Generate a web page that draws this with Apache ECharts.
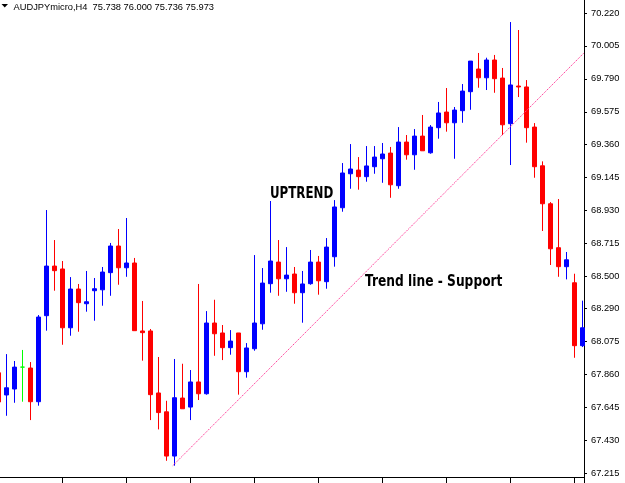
<!DOCTYPE html>
<html><head><meta charset="utf-8">
<script src="https://cdn.jsdelivr.net/npm/echarts@6.0.0/dist/echarts.min.js"></script>
<style>html,body{margin:0;padding:0;background:#fff}#chart{width:625px;height:483px}</style>
</head><body><div id="chart"></div>
<script>
// ---- data (AUDJPYmicro, H4) ----
const opens = [67.870,67.725,67.764,67.907,67.901,67.681,68.243,68.567,68.548,68.164,68.417,68.321,68.406,68.412,68.524,68.698,68.556,68.587,68.143,68.143,67.738,67.615,67.326,67.705,67.646,67.810,67.733,68.195,68.130,68.034,68.130,67.877,68.027,68.190,68.452,68.593,68.484,68.515,68.393,68.452,68.593,68.465,68.628,68.948,69.170,69.194,69.151,69.216,69.268,69.305,69.092,69.377,69.294,69.416,69.307,69.471,69.573,69.503,69.582,69.706,69.854,69.797,69.913,69.795,69.497,69.743,69.737,69.475,69.222,68.974,68.687,68.563,68.458,68.047];
const closes = [67.679,67.772,67.907,67.907,67.681,68.234,68.567,68.537,68.164,68.417,68.328,68.334,68.419,68.528,68.698,68.556,68.587,68.145,68.132,67.727,67.610,67.326,67.707,67.635,67.810,67.733,68.195,68.125,68.034,68.077,67.877,68.032,68.195,68.456,68.600,68.484,68.508,68.393,68.450,68.593,68.471,68.691,68.953,69.175,69.201,69.151,69.221,69.279,69.299,69.098,69.377,69.294,69.416,69.320,69.475,69.567,69.503,69.586,69.710,69.906,69.797,69.913,69.791,69.490,69.750,69.737,69.471,69.216,68.974,68.680,68.563,68.608,68.047,68.164];
const lows = [67.679,67.589,67.674,67.681,67.561,67.655,68.145,68.406,68.053,68.112,68.138,68.269,68.210,68.308,68.373,68.445,68.497,68.145,67.949,67.561,67.500,67.295,67.263,67.635,67.561,67.692,67.727,67.981,67.953,67.988,67.727,67.838,68.014,68.151,68.393,68.373,68.399,68.321,68.197,68.445,68.380,68.419,68.563,68.922,69.072,69.066,69.118,69.170,69.111,69.013,69.072,69.262,69.196,69.320,69.301,69.399,69.445,69.268,69.503,69.588,69.732,69.717,69.699,69.423,69.227,69.671,69.373,69.144,68.796,68.574,68.497,68.480,67.968,68.038];
const highs = [67.870,67.992,67.947,68.019,67.940,68.247,68.933,68.737,68.600,68.495,68.450,68.535,68.489,68.561,68.718,68.809,68.881,68.620,68.339,68.156,67.973,67.687,67.960,67.929,67.888,68.450,68.273,68.347,68.182,68.149,68.130,68.064,68.639,68.554,68.992,68.737,68.691,68.561,68.535,68.672,68.633,68.750,68.998,69.240,69.364,69.279,69.351,69.351,69.371,69.345,69.475,69.423,69.462,69.554,69.488,69.639,69.730,69.606,69.756,69.906,69.959,69.928,69.946,69.861,70.161,70.109,69.782,69.501,69.251,68.985,69.005,68.659,68.517,68.341];
const yTickLabels = ['67.215','67.430','67.645','67.860','68.075','68.290','68.500','68.715','68.930','69.145','69.360','69.575','69.790','70.005','70.220'];
const xTickCandles = [8,16,24,32,40,48,56,64,72];
const trendStart = [21.8, 67.263];
const trendEnd = [73.2, 69.959];
const headerText = 'AUDJPYmicro,H4  75.738 76.000 75.736 75.973';
const noteUptrend = 'UPTREND';
const noteSupport = 'Trend line - Support';

// ---- chart ----
const yTickValues = yTickLabels.map(Number);
const candles = opens.map((o, i) => [i, o, closes[i], lows[i], highs[i]]);
const chart = echarts.init(document.getElementById('chart'), null, {renderer: 'canvas'});
const option = {
  animation: false,
  backgroundColor: '#ffffff',
  grid: {left: 0, right: 41, top: 0, bottom: 0, containLabel: false, outerBoundsMode: 'none'},
  xAxis: {
    type: 'value', min: 0.2083, max: 73.2083, offset: -6,
    axisLine: {show: true, onZero: false, lineStyle: {color: '#000', width: 1}},
    axisTick: {show: true, length: 6, customValues: xTickCandles, lineStyle: {color: '#000', width: 1}},
    axisLabel: {show: false},
    splitLine: {show: false}
  },
  yAxis: {
    type: 'value', position: 'right', min: 67.150, max: 70.305, scale: true,
    axisLine: {show: true, lineStyle: {color: '#000', width: 1}},
    axisTick: {show: true, length: 3, customValues: yTickValues, lineStyle: {color: '#000', width: 1}},
    axisLabel: {
      show: true, customValues: yTickValues, margin: 7, color: '#000',
      fontFamily: 'Liberation Sans, Arial, sans-serif', fontSize: 9.3,
      formatter: v => { const k = yTickValues.findIndex(t => Math.abs(t - v) < 1e-6); return k >= 0 ? yTickLabels[k] : ''; }
    },
    splitLine: {show: false}
  },
  series: [{
    type: 'candlestick',
    data: candles,
    barWidth: 4,
    clip: true,
    silent: true,
    itemStyle: {
      color: '#0000ff', color0: '#ff0000',
      borderColor: '#0000ff', borderColor0: '#ff0000', borderColorDoji: '#00ff00',
      borderWidth: 1
    },
    markLine: {
      silent: true, animation: false,
      symbol: ['none', 'none'],
      label: {show: false},
      lineStyle: {color: '#ff3d99', width: 1, type: [1.4, 1]},
      emphasis: {disabled: true},
      data: [[{coord: trendStart}, {coord: trendEnd}]]
    }
  }],
  graphic: [
    {type: 'polygon', shape: {points: [[1.5, 4], [8, 4], [4.75, 7.5]]}, style: {fill: '#000'}, silent: true},
    {type: 'text', x: 13.5, y: 7.2, silent: true,
     style: {text: headerText, fill: '#000', font: '9.3px "Liberation Sans", Arial, sans-serif', verticalAlign: 'middle', align: 'left'}},
    {type: 'text', x: 270, y: 193.5, scaleX: 0.74, silent: true,
     style: {text: noteUptrend, fill: '#000', font: 'bold 16px "DejaVu Sans", sans-serif', verticalAlign: 'middle', align: 'left'}},
    {type: 'text', x: 365, y: 282, scaleX: 0.765, silent: true,
     style: {text: noteSupport, fill: '#000', font: 'bold 16px "DejaVu Sans", sans-serif', verticalAlign: 'middle', align: 'left'}}
  ]
};
chart.setOption(option);
</script>
</body></html>
